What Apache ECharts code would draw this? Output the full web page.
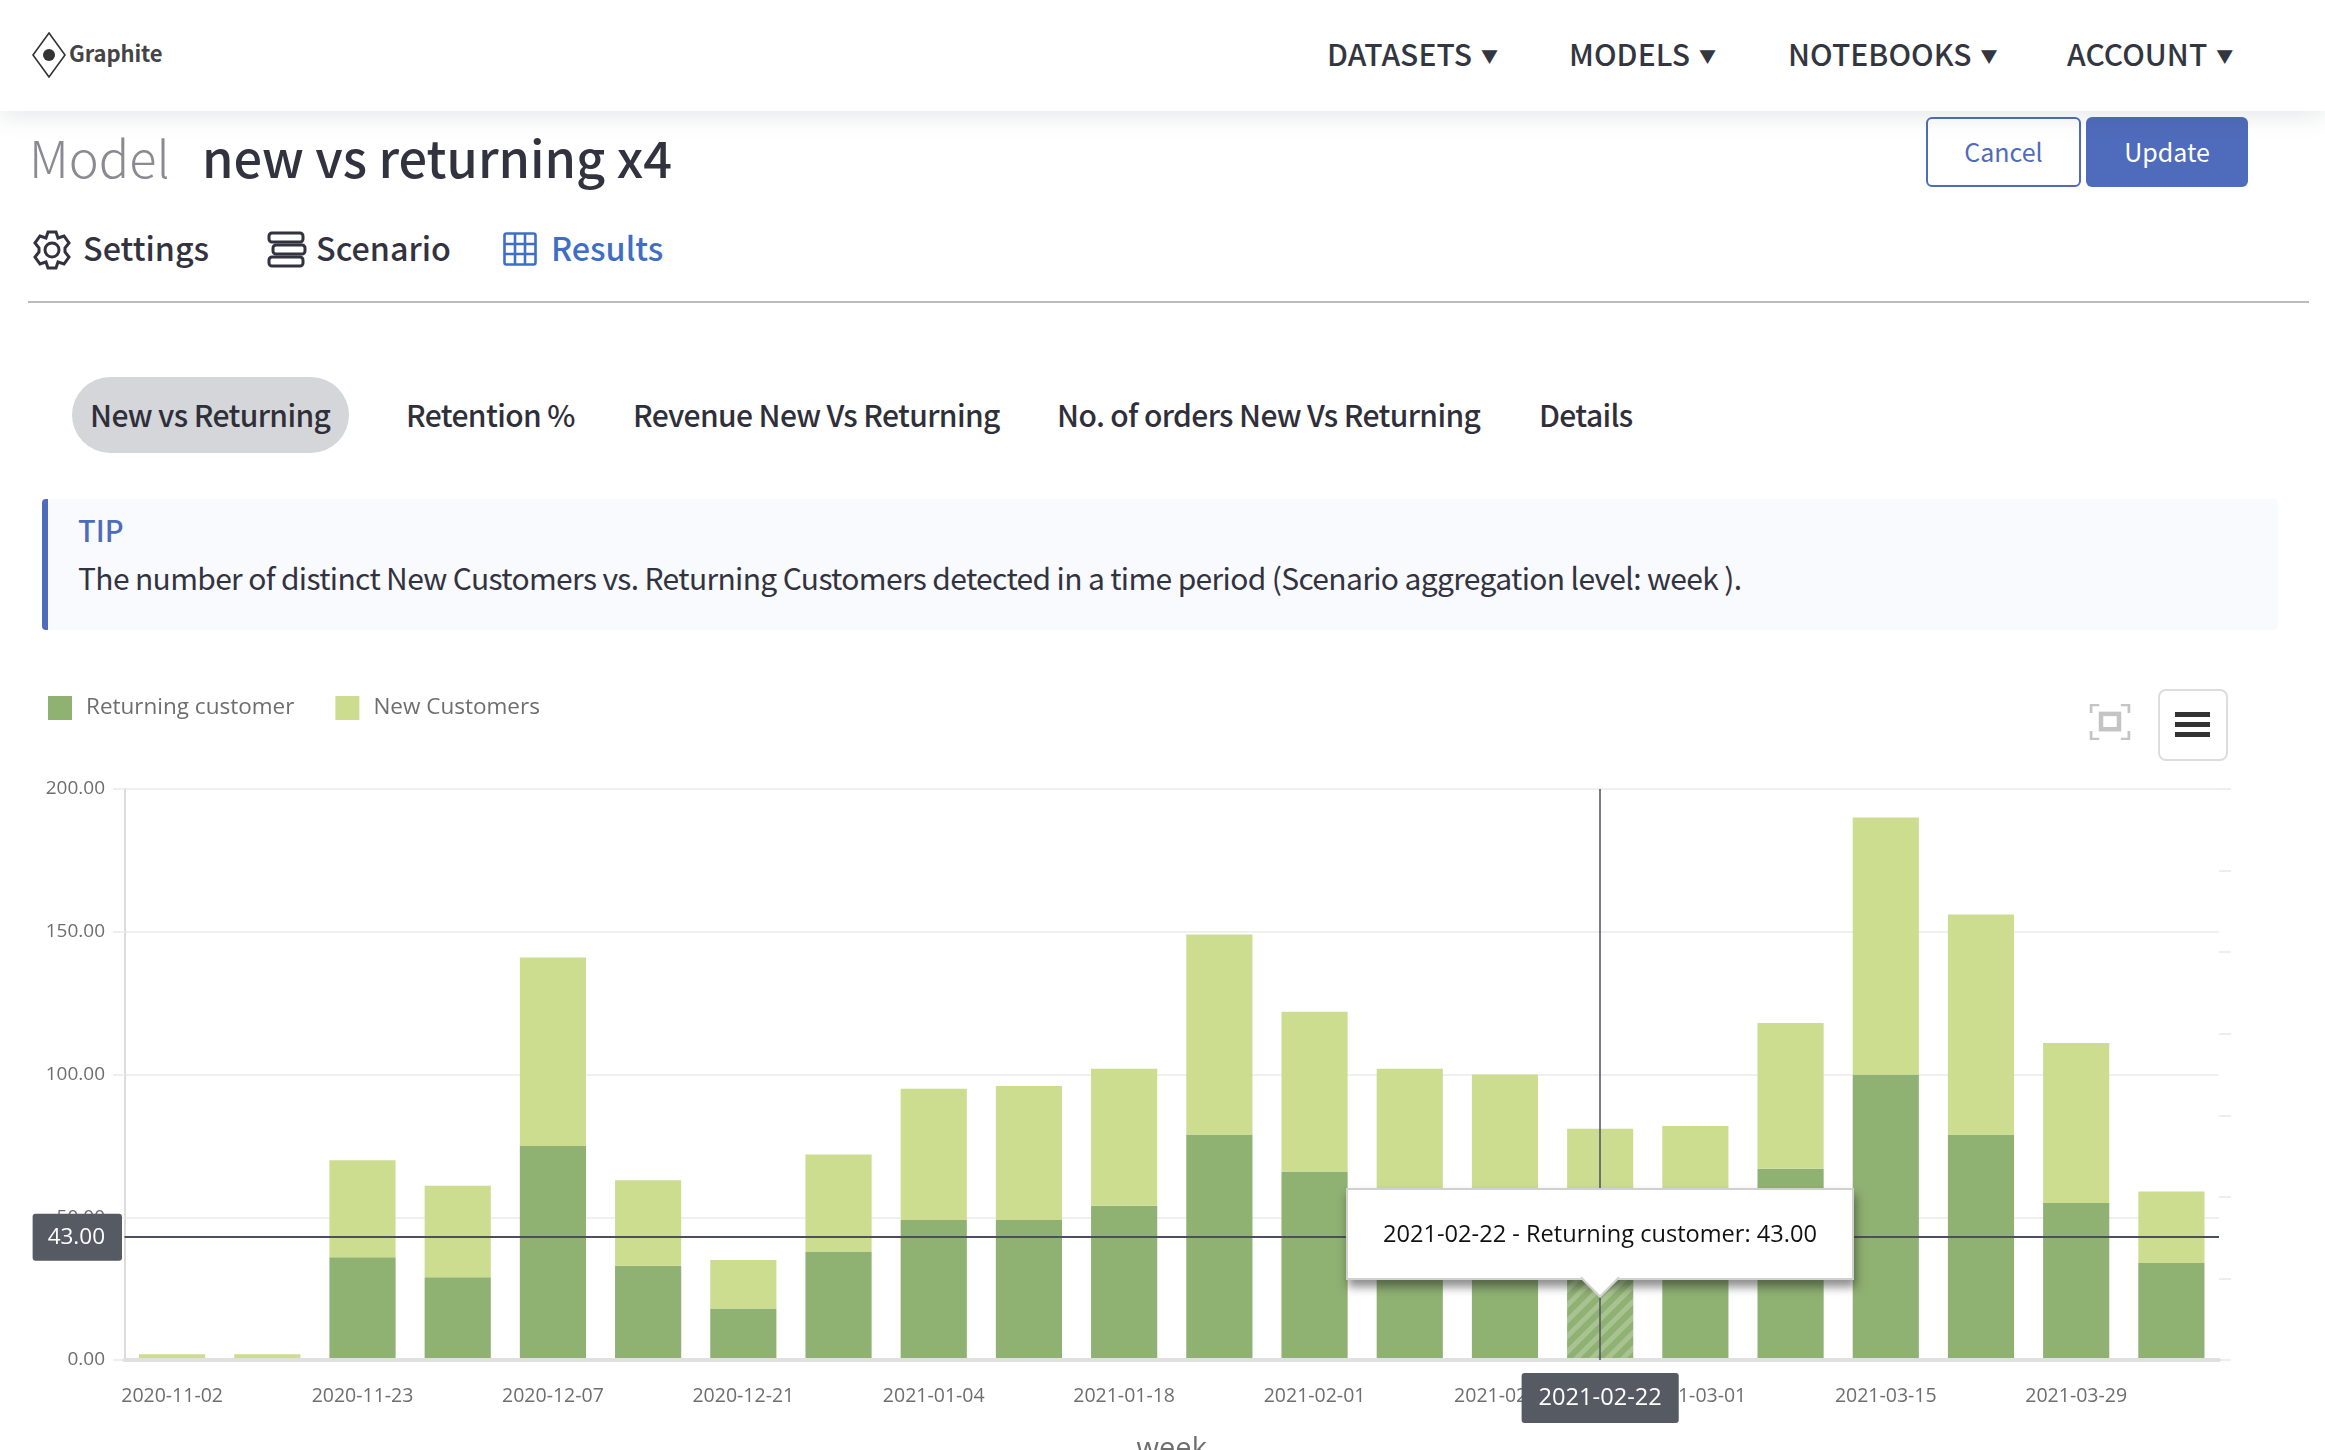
<!DOCTYPE html>
<html><head><meta charset="utf-8">
<script src="https://cdn.jsdelivr.net/npm/echarts@6/dist/echarts.min.js"></script>
<style>
html,body{margin:0;padding:0;background:#fff;width:2325px;height:1450px;overflow:hidden;font-family:"Noto Sans CJK SC","Noto Sans",sans-serif;color:#33333f}
.abs{position:absolute;white-space:nowrap;line-height:1}
#nav{position:absolute;left:0;top:0;width:2325px;height:111px;background:#fff;box-shadow:0 6px 22px rgba(60,70,80,.12);z-index:3}
#chart{position:absolute;left:0;top:660px;width:2325px;height:790px}
.tab{font-size:30px;letter-spacing:-.63px;font-weight:500;color:#2f2f3a}
.menu{font-size:30px;letter-spacing:.05px;font-weight:500;color:#33363f}
.menu i{font-style:normal;font-size:17px;margin-left:9px;vertical-align:3px}
.sub{font-size:32.3px;font-weight:500}
</style></head><body>
<div id="nav">
<svg class="abs" style="left:30px;top:32px" width="38" height="46" viewBox="0 0 38 46"><path d="M19 1 L35 23 L19 45 L3 23 Z" fill="none" stroke="#333" stroke-width="1.6"/><circle cx="19" cy="23" r="6" fill="#333"/></svg>
<div class="abs" style="left:69px;top:41px;font-size:22px;font-weight:700;color:#444;letter-spacing:-.1px">Graphite</div>
<div class="abs menu" style="left:1327px;top:38px">DATASETS<i>▼</i></div>
<div class="abs menu" style="left:1569px;top:38px">MODELS<i>▼</i></div>
<div class="abs menu" style="left:1788px;top:38px">NOTEBOOKS<i>▼</i></div>
<div class="abs menu" style="left:2067px;top:38px">ACCOUNT<i>▼</i></div>
</div>
<div class="abs" style="left:29px;top:131px;font-size:50.5px;font-weight:300;color:#8a8a92">Model</div>
<div class="abs" style="left:202px;top:131px;font-size:50.5px;font-weight:500;color:#33333f">new vs returning x4</div>
<div class="abs" style="left:1926px;top:117px;width:151px;height:66px;border:2px solid #4f6bbb;border-radius:6px;text-align:center;line-height:64px;font-size:25px;color:#4f6bbb;box-sizing:content-box">Cancel</div>
<div class="abs" style="left:2086px;top:117px;width:162px;height:70px;background:#4f6bbb;border-radius:6px;text-align:center;line-height:68px;font-size:25px;color:#fff">Update</div>
<svg class="abs" style="left:31px;top:229px" width="42" height="42" viewBox="0 0 42 42" fill="none" stroke="#33333f" stroke-width="3"><circle cx="21" cy="21" r="7"/><path d="M17 3h8l2 6 6-2 5 7-4 5 0 4 4 5-5 7-6-2-2 6h-8l-2-6-6 2-5-7 4-5 0-4-4-5 5-7 6 2z"/></svg>
<div class="abs sub" style="left:83px;top:231px">Settings</div>
<svg class="abs" style="left:267px;top:230px" width="40" height="40" viewBox="0 0 40 40" fill="none" stroke="#33333f" stroke-width="3"><rect x="2" y="3" width="34" height="9" rx="3"/><rect x="6" y="15" width="32" height="9" rx="3"/><rect x="2" y="27" width="34" height="9" rx="3"/></svg>
<div class="abs sub" style="left:316px;top:231px">Scenario</div>
<svg class="abs" style="left:503px;top:232px" width="34" height="34" viewBox="0 0 34 34" fill="none" stroke="#3f6fc4" stroke-width="2.6"><rect x="1.5" y="1.5" width="31" height="31" rx="2"/><path d="M1.5 12h31M1.5 22h31M12 1.5v31M22 1.5v31"/></svg>
<div class="abs sub" style="left:551px;top:231px;color:#3f6fc4">Results</div>
<div class="abs" style="left:28px;top:301px;width:2281px;height:2px;background:#bbb"></div>
<div class="abs" style="left:72px;top:377px;width:277px;height:76px;background:#d5d6da;border-radius:38px"></div>
<div class="abs tab" style="left:90px;top:399px">New vs Returning</div>
<div class="abs tab" style="left:406px;top:399px">Retention %</div>
<div class="abs tab" style="left:633px;top:399px">Revenue New Vs Returning</div>
<div class="abs tab" style="left:1057px;top:399px">No. of orders New Vs Returning</div>
<div class="abs tab" style="left:1539px;top:399px">Details</div>
<div class="abs" style="left:42px;top:499px;width:2230px;height:131px;background:#f8fafe;border-left:6px solid #4f6bbb;border-radius:4px"></div>
<div class="abs" style="left:78px;top:515px;font-size:29px;font-weight:500;color:#4f6bbb">TIP</div>
<div class="abs" style="left:78px;top:562px;font-size:30px;letter-spacing:-.65px;color:#33333f">The number of distinct New Customers vs. Returning Customers detected in a time period (Scenario aggregation level: week ).</div>
<svg class="abs" style="left:2089px;top:704px" width="42" height="36" viewBox="0 0 44 40" fill="none" stroke="#c4c4c4" stroke-width="3"><path d="M1 10V1h9M34 1h9v9M43 30v9h-9M10 39H1v-9"/><rect x="12" y="11" width="20" height="17" stroke-width="5"/></svg>
<div class="abs" style="left:2158px;top:689px;width:66px;height:68px;border:2px solid #ddd;border-radius:8px;background:#fff"></div>
<div class="abs" style="left:2175px;top:712px;width:35px;height:5px;background:#333"></div>
<div class="abs" style="left:2175px;top:722px;width:35px;height:5px;background:#333"></div>
<div class="abs" style="left:2175px;top:732px;width:35px;height:5px;background:#333"></div>
<div id="chart"></div>
<script>
var categories=["2020-11-02","2020-11-09","2020-11-23","2020-11-30","2020-12-07","2020-12-14","2020-12-21","2020-12-28","2021-01-04","2021-01-11","2021-01-18","2021-01-25","2021-02-01","2021-02-08","2021-02-15","2021-02-22","2021-03-01","2021-03-08","2021-03-15","2021-03-22","2021-03-29","2021-04-05"];
var returningCustomers=[0,0,36,29,75,33,18,38,49,49,54,79,66,44,42,43,41,67,100,79,55,34];
var newCustomers=[2,2,34,32,66,30,17,34,46,47,48,70,56,58,58,38,41,51,90,77,56,25];
var seriesNames=["Returning customer","New Customers"];
var selectedIndex=15, selectedValue=43;
var FONT='"Open Sans","Noto Sans",sans-serif';
var chart=echarts.init(document.getElementById('chart'));
var faint='#eeeeee';
var ret=returningCustomers.map(function(v,i){
  if(i!==selectedIndex) return v;
  return {value:v,itemStyle:{decal:{symbol:'rect',color:'rgba(255,255,255,0.22)',dashArrayX:[1,0],dashArrayY:[5,6],rotation:-Math.PI/4}}};
});
chart.setOption({
  animation:false,
  color:['#8fb172','#ccdd90'],
  textStyle:{fontFamily:FONT},
  legend:{left:43,top:31,itemWidth:24,itemHeight:24,itemGap:41,icon:'rect',selectedMode:false,
    data:seriesNames,textStyle:{fontSize:22.5,color:'#6e6e6e',fontFamily:FONT,padding:[6,0,0,9]}},
  grid:{left:124.5,right:106,top:129,bottom:90,containLabel:false,outerBoundsMode:'none'},
  xAxis:{type:'category',data:categories,z:5,
    axisLine:{lineStyle:{color:'#e0e0e0',width:4}},axisTick:{show:false},
    axisLabel:{interval:1,fontSize:19.5,color:'#6e6e6e',margin:26,fontFamily:FONT},
    name:'week',nameLocation:'middle',nameGap:75,nameTextStyle:{fontSize:29,color:'#6e6e6e'},
    axisPointer:{show:true,status:'show',value:categories[selectedIndex],type:'line',snap:false,
      lineStyle:{color:'#4c4f5e',width:1.5,type:'solid'},
      label:{show:true,backgroundColor:'#565a63',color:'#fff',fontSize:23.6,padding:[13,17,13,17],margin:13,fontFamily:FONT}}
  },
  yAxis:[{type:'value',min:0,max:200,interval:50,offset:-0.5,
    axisLine:{show:true,lineStyle:{color:'#dcdcdc',width:2}},
    axisTick:{show:true,length:12,lineStyle:{color:faint,width:2}},
    splitLine:{lineStyle:{color:'#f0f0f0',width:2}},
    axisLabel:{fontSize:19,color:'#6e6e6e',margin:20,fontFamily:FONT,padding:[5,0,0,0],formatter:function(v){return v.toFixed(2)}},
    axisPointer:{show:true,status:'show',value:selectedValue,type:'line',snap:false,
      lineStyle:{color:'#4c4f5e',width:2,type:'solid'},
      label:{show:true,backgroundColor:'#565a63',color:'#fff',fontSize:22.5,padding:[12,17,12,15],margin:3,fontFamily:FONT,
        formatter:function(p){return Number(p.value).toFixed(2)}}}
  },{type:'value',position:'right',min:0,max:7,interval:1,
    axisLine:{show:false},axisLabel:{show:false},splitLine:{show:false},
    axisTick:{show:true,length:12,lineStyle:{color:faint,width:2}}
  }],
  tooltip:{trigger:'item',alwaysShowContent:true,showDelay:0,transitionDuration:0,
    backgroundColor:'transparent',borderWidth:0,padding:0,
    extraCssText:'box-shadow:none;border-radius:0;overflow:visible;',
    position:function(){
      var p=chart.convertToPixel({xAxisIndex:0},categories[selectedIndex]);
      return [p-254,528];
    },
    formatter:function(){
      var t=categories[selectedIndex]+' - '+seriesNames[0]+': '+selectedValue.toFixed(2);
      return '<div style="position:relative;width:508px;height:92px;box-sizing:border-box;background:#fff;border:2px solid #d0d0d0;box-shadow:2px 7px 9px rgba(30,30,30,.5);text-align:center;line-height:87px;font-size:23.6px;color:#111;font-family:\'Open Sans\'">'+t+
      '<div style="position:absolute;left:50%;top:100%;width:28px;height:28px;box-sizing:border-box;margin-left:-14px;margin-top:-14px;background:#fff;border-right:2px solid #d0d0d0;border-bottom:2px solid #d0d0d0;transform:rotate(45deg)"></div></div>';
    }
  },
  series:[
    {name:seriesNames[0],type:'bar',stack:'t',barWidth:'69.5%',data:ret,emphasis:{disabled:true}},
    {name:seriesNames[1],type:'bar',stack:'t',barWidth:'69.5%',data:newCustomers,emphasis:{disabled:true}}
  ]
});
chart.dispatchAction({type:'showTip',seriesIndex:0,dataIndex:selectedIndex});
</script>
</body></html>
